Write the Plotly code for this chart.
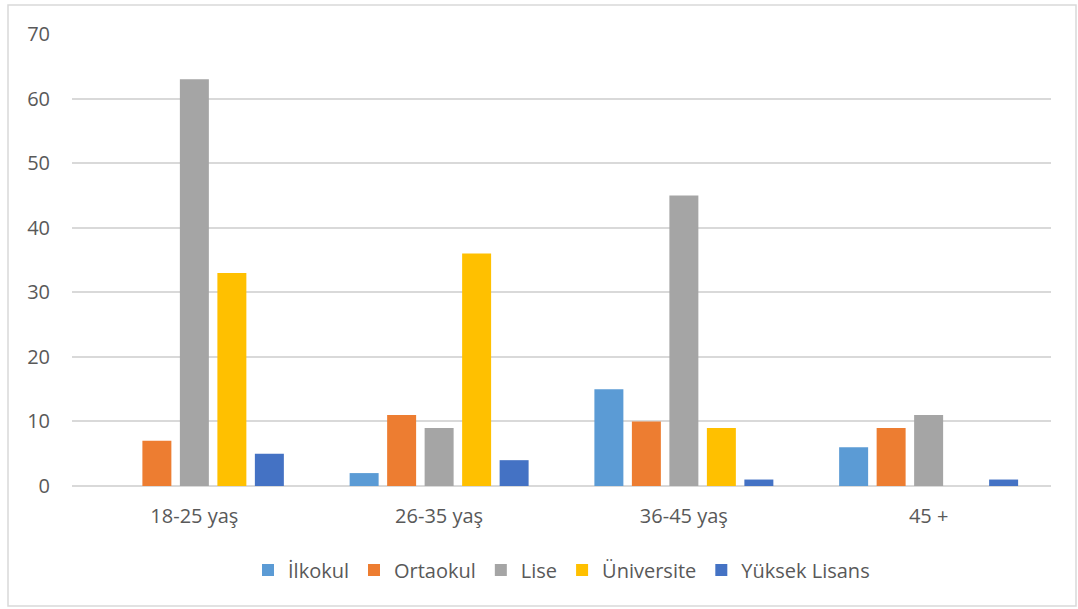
import plotly.graph_objects as go

categories = ["18-25 yaş", "26-35 yaş", "36-45 yaş", "45 +"]
series_names = ["İlkokul", "Ortaokul", "Lise", "Üniversite", "Yüksek Lisans"]
ilkokul = [0, 2, 15, 6]
ortaokul = [7, 11, 10, 9]
lise = [63, 9, 45, 11]
universite = [33, 36, 9, 0]
yuksek_lisans = [5, 4, 1, 1]
colors = ["#5B9BD5", "#ED7D31", "#A5A5A5", "#FFC000", "#4472C4"]
y_ticks = [0, 10, 20, 30, 40, 50, 60, 70]

values = [ilkokul, ortaokul, lise, universite, yuksek_lisans]

fig = go.Figure()
for name, vals, col in zip(series_names, values, colors):
    fig.add_trace(go.Bar(name=name, x=categories, y=vals, marker_color=col,
                         marker_line_width=0))

font_family = "Open Sans, Liberation Sans, sans-serif"
fs = 20
fig.update_layout(
    width=1078, height=609,
    margin=dict(l=72, r=27, t=34, b=123),
    paper_bgcolor="white", plot_bgcolor="white",
    barmode="group", bargap=0.234, bargroupgap=0.227,
    font=dict(family=font_family, size=fs, color="#595959"),
    showlegend=True,
    legend=dict(orientation="h", x=0.5, xanchor="center", y=-0.186, yanchor="middle",
                font=dict(size=fs, color="#595959"), itemwidth=30,
                traceorder="normal", itemclick=False),
    xaxis=dict(showgrid=False, showline=False, ticks="", ticklabelstandoff=16,
               tickfont=dict(size=fs, color="#595959")),
    yaxis=dict(range=[0, 70], tickvals=y_ticks, showgrid=True, gridcolor="#D9D9D9",
               gridwidth=1.5, zeroline=True, zerolinecolor="#D9D9D9", zerolinewidth=1.5,
               showline=False, ticks="", ticklabelstandoff=21,
               tickfont=dict(size=fs, color="#595959")),
    shapes=[dict(type="rect", xref="paper", yref="paper",
                 x0=(8 - 72) / 979, x1=(1076 - 72) / 979,
                 y0=(486 - 606) / 452, y1=(486 - 5) / 452,
                 line=dict(color="#D9D9D9", width=1.5), fillcolor="rgba(0,0,0,0)",
                 layer="below")],
)
fig.write_html("out.html", config={"displayModeBar": False},
               post_script="document.body.style.margin='0';")
